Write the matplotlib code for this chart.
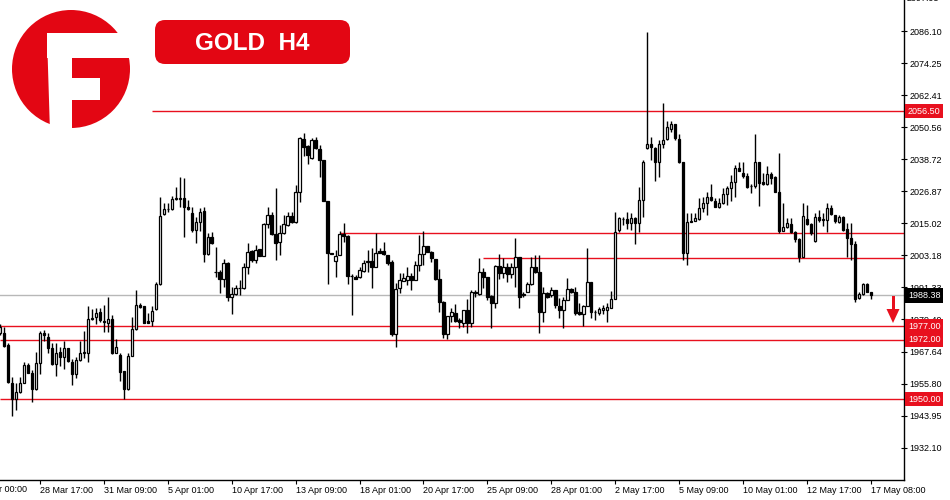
import numpy as np
import matplotlib
matplotlib.use("Agg")
import matplotlib.pyplot as plt
from matplotlib.patches import Circle, Rectangle, FancyBboxPatch, Polygon
from matplotlib.transforms import blended_transform_factory

plt.rcParams['font.family'] = ['Liberation Sans', 'DejaVu Sans']

# GOLD H4 candles (open, high, low, close), oldest first
opens = [1974.4, 1974.6, 1970.0, 1956.1, 1950.1, 1952.6, 1956.1, 1962.7, 1959.8, 1953.8,
         1963.3, 1974.6, 1972.9, 1968.8, 1962.9, 1967.6, 1965.5, 1968.8, 1963.9, 1959.2,
         1964.5, 1967.0, 1967.0, 1979.5, 1980.5, 1982.1, 1978.9, 1978.3, 1979.5, 1967.2,
         1966.4, 1960.4, 1953.8, 1966.1, 1975.8, 1984.8, 1984.4, 1978.9, 1979.0, 1983.2,
         1992.5, 2018.3, 2020.2, 2020.2, 2023.9, 2024.2, 2024.3, 2020.9, 2018.7, 2012.6,
         2015.6, 2019.6, 2003.7, 2009.8, 1997.2, 1996.9, 1994.3, 2000.5, 1987.9, 1988.9,
         1991.0, 1991.0, 1998.8, 2004.9, 2001.5, 2005.5, 2003.1, 2014.7, 2018.1, 2010.9,
         2008.0, 2011.3, 2014.4, 2017.7, 2015.4, 2026.5, 2046.1, 2043.7, 2039.3, 2045.8,
         2042.4, 2038.4, 2023.3, 2003.9, 2001.1, 2003.3, 2011.1, 2010.3, 1995.7, 1995.2,
         1995.1, 1997.5, 2000.6, 2001.1, 1999.0, 2004.9, 2004.8, 2003.3, 2000.6, 1974.0,
         1991.0, 1993.8, 1994.1, 1995.6, 1994.1, 1999.6, 2003.6, 2006.6, 2004.6, 2001.8,
         1994.4, 1986.1, 1974.0, 1980.8, 1981.8, 1979.3, 1978.3, 1983.0, 1978.1, 1989.5,
         1988.8, 1996.9, 1995.1, 1988.3, 1985.4, 1999.4, 1996.5, 1998.8, 1996.2, 1998.8,
         2002.4, 1988.8, 1989.8, 1992.5, 1998.8, 1996.9, 1982.1, 1989.1, 1988.5, 1990.4,
         1984.5, 1983.0, 1986.7, 1990.6, 1989.8, 1982.1, 1981.4, 1984.5, 1993.2, 1982.4,
         1981.8, 1983.0, 1983.0, 1983.9, 1987.0, 2012.6, 2016.7, 2016.6, 2015.0, 2017.1,
         2015.0, 2023.6, 2042.7, 2044.3, 2043.0, 2037.6, 2044.3, 2046.1, 2049.9, 2051.6,
         2046.1, 2037.6, 2003.9, 2015.6, 2016.0, 2016.6, 2020.6, 2022.4, 2024.6, 2023.4,
         2021.0, 2022.4, 2025.9, 2028.0, 2030.2, 2035.4, 2033.7, 2032.6, 2028.8, 2028.8,
         2037.6, 2030.4, 2029.4, 2033.4, 2032.3, 2026.7, 2012.3, 2013.5, 2014.8, 2011.9,
         2009.4, 2002.7, 2016.6, 2014.6, 2008.5, 2017.2, 2016.1, 2016.3, 2020.6, 2018.1,
         2015.4, 2017.5, 2012.8, 2009.7, 2007.4, 1987.3, 1988.8, 1992.6, 1989.5]
highs = [1977.8, 1976.8, 1970.7, 1958.1, 1955.9, 1958.3, 1963.9, 1963.5, 1960.8, 1967.3,
         1975.3, 1975.6, 1974.4, 1970.7, 1970.7, 1969.4, 1971.6, 1968.9, 1964.75, 1965.7,
         1971.6, 1975.2, 1984.5, 1983.2, 1983.6, 1983.6, 1984.8, 1987.7, 1981.1, 1972.1,
         1967.0, 1960.6, 1967.0, 1980.5, 1990.4, 1985.4, 1984.6, 1981.8, 1984.5, 1993.5,
         2024.9, 2022.7, 2022.4, 2025.1, 2028.6, 2032.0, 2031.65, 2023.6, 2021.2, 2017.5,
         2020.6, 2021.2, 2011.3, 2011.9, 2006.2, 1997.8, 2001.7, 2000.6, 1991.6, 1992.2,
         1994.1, 2000.2, 2007.6, 2005.2, 2007.0, 2005.6, 2015.3, 2020.9, 2019.1, 2028.0,
         2014.4, 2018.1, 2019.1, 2019.1, 2029.2, 2046.8, 2048.3, 2043.8, 2046.4, 2047.0,
         2044.0, 2038.5, 2023.4, 2004.2, 2005.2, 2012.2, 2015.3, 2010.7, 1996.3, 1995.9,
         1999.0, 2001.5, 2005.2, 2006.0, 2011.3, 2005.8, 2008.0, 2003.4, 2001.5, 1992.8,
         1996.5, 1996.5, 1998.8, 1996.5, 2001.1, 2010.7, 2012.2, 2006.7, 2004.7, 2001.9,
         1998.1, 1986.2, 1980.9, 1983.6, 1985.1, 1979.9, 1983.1, 1987.0, 1990.4, 1990.4,
         2002.1, 1998.4, 1995.2, 1988.4, 1999.6, 2003.6, 2002.1, 2000.2, 2000.2, 2009.5,
         2002.7, 1989.8, 1993.5, 2002.7, 2003.3, 2003.3, 1991.6, 1989.8, 1991.6, 1990.5,
         1987.3, 1987.9, 1994.7, 1991.0, 1991.6, 1985.4, 1984.8, 2006.0, 1993.3, 1983.0,
         1984.2, 1984.8, 1985.4, 1990.0, 2019.3, 2017.5, 2017.5, 2019.3, 2018.7, 2017.5,
         2028.6, 2038.4, 2085.9, 2047.0, 2043.3, 2045.8, 2059.4, 2052.8, 2052.8, 2051.7,
         2047.9, 2037.7, 2018.7, 2018.7, 2018.7, 2024.3, 2024.9, 2026.7, 2029.4, 2024.3,
         2024.3, 2028.0, 2028.8, 2032.9, 2036.6, 2037.8, 2037.8, 2033.5, 2029.4, 2047.9,
         2037.7, 2033.5, 2036.3, 2033.9, 2032.4, 2040.9, 2022.4, 2016.9, 2016.9, 2012.3,
         2009.5, 2022.4, 2021.8, 2015.0, 2018.7, 2019.9, 2018.7, 2022.4, 2021.8, 2018.2,
         2018.1, 2017.9, 2015.0, 2015.0, 2008.6, 1989.8, 1992.8, 1992.8, 1989.8]
lows = [1973.75, 1969.4, 1955.9, 1943.9, 1946.0, 1952.4, 1955.9, 1959.6, 1949.1, 1953.4,
        1959.3, 1971.6, 1967.2, 1962.8, 1958.7, 1962.4, 1961.1, 1963.9, 1955.3, 1957.7,
        1964.1, 1965.1, 1963.9, 1979.4, 1977.8, 1978.4, 1975.0, 1975.0, 1966.8, 1967.0,
        1956.9, 1950.0, 1953.4, 1966.0, 1975.6, 1983.6, 1978.1, 1978.1, 1977.2, 1983.1,
        1992.4, 2018.1, 2019.3, 2020.0, 2023.8, 2021.2, 2010.1, 2020.1, 2011.9, 2007.9,
        2012.3, 2000.8, 2003.3, 2007.4, 1995.3, 1989.1, 1991.6, 1986.4, 1981.5, 1988.5,
        1988.5, 1990.6, 1996.3, 2000.9, 2000.2, 2003.0, 2003.0, 2013.2, 2010.7, 2001.5,
        2003.3, 2010.9, 2014.2, 2015.3, 2015.3, 2023.0, 2040.0, 2036.8, 2038.8, 2042.5,
        2032.0, 2023.2, 1992.5, 2003.6, 1995.3, 2003.2, 2008.2, 1992.5, 1981.1, 1994.3,
        1994.7, 1997.2, 1997.2, 1991.2, 1998.9, 2003.9, 2003.3, 1999.6, 1973.5, 1969.4,
        1989.1, 1993.7, 1992.2, 1990.4, 1994.0, 1997.5, 1999.6, 2004.3, 2000.6, 1994.1,
        1982.1, 1972.5, 1972.3, 1978.7, 1978.7, 1976.5, 1976.8, 1974.4, 1976.8, 1987.7,
        1988.7, 1991.0, 1986.7, 1976.2, 1983.6, 1994.4, 1994.9, 1993.2, 1994.7, 1991.6,
        1983.6, 1987.9, 1989.5, 1992.2, 1996.5, 1974.4, 1978.7, 1987.3, 1987.9, 1983.6,
        1979.9, 1976.2, 1986.6, 1989.1, 1981.1, 1981.1, 1977.2, 1984.4, 1979.9, 1979.3,
        1981.1, 1981.4, 1978.7, 1983.6, 1986.9, 2011.7, 2014.4, 2012.9, 2012.6, 2007.3,
        2011.9, 2017.5, 2042.5, 2038.4, 2030.7, 2032.3, 2042.7, 2045.8, 2048.9, 2045.8,
        2037.2, 2001.5, 1999.6, 2015.4, 2015.9, 2016.3, 2019.3, 2018.1, 2023.3, 2021.1,
        2020.6, 2022.3, 2021.8, 2023.3, 2024.9, 2034.3, 2031.6, 2028.0, 2026.1, 2028.2,
        2021.5, 2029.3, 2029.3, 2029.4, 2026.6, 2011.6, 2012.2, 2013.4, 2011.3, 2008.2,
        2000.9, 2002.6, 2014.4, 2010.7, 2008.2, 2015.6, 2014.2, 2011.9, 2018.1, 2015.0,
        2015.0, 2012.2, 2002.7, 2001.5, 1985.8, 1987.05, 1988.5, 1989.5, 1987.05]
closes = [1976.8, 1969.7, 1956.25, 1950.1, 1952.6, 1956.1, 1962.7, 1959.8, 1953.8, 1963.3,
          1974.4, 1973.75, 1968.8, 1962.9, 1967.2, 1965.7, 1968.8, 1964.3, 1959.2, 1964.5,
          1967.2, 1967.6, 1979.5, 1979.9, 1982.0, 1979.3, 1978.7, 1979.5, 1967.0, 1969.2,
          1960.2, 1953.8, 1966.0, 1975.8, 1984.8, 1984.0, 1978.3, 1978.3, 1982.7, 1992.5,
          2017.85, 2020.2, 2020.3, 2023.9, 2024.3, 2024.3, 2021.2, 2020.2, 2012.6, 2015.6,
          2019.3, 2003.7, 2009.8, 2007.6, 1996.9, 1994.3, 2000.2, 1987.9, 1988.9, 1991.0,
          1991.1, 1998.8, 2004.3, 2001.5, 2005.2, 2003.1, 2014.8, 2018.1, 2010.9, 2007.6,
          2011.3, 2014.8, 2017.7, 2015.4, 2026.5, 2046.4, 2043.4, 2040.3, 2045.8, 2042.7,
          2038.4, 2023.3, 2003.9, 2003.8, 2002.9, 2011.1, 2010.3, 1995.7, 1995.6, 1994.4,
          1997.8, 2000.2, 2001.1, 1999.0, 2003.9, 2004.2, 2003.6, 2000.2, 1974.0, 1990.75,
          1994.1, 1994.7, 1995.6, 1994.1, 1999.6, 2003.6, 2006.6, 2004.6, 2002.1, 1994.4,
          1986.1, 1974.0, 1980.8, 1982.1, 1979.0, 1978.4, 1983.0, 1978.1, 1989.5, 1989.4,
          1996.9, 1995.3, 1987.9, 1985.4, 1999.4, 1996.5, 1998.8, 1996.2, 1998.8, 2002.4,
          1987.9, 1988.4, 1992.5, 1998.8, 1996.9, 1982.4, 1989.1, 1987.9, 1990.4, 1984.8,
          1983.0, 1986.7, 1990.6, 1989.8, 1981.8, 1981.6, 1984.5, 1993.2, 1982.1, 1982.3,
          1983.4, 1983.6, 1984.2, 1987.0, 2011.9, 2016.9, 2016.6, 2015.0, 2017.1, 2015.3,
          2023.6, 2037.8, 2044.3, 2043.1, 2037.6, 2044.3, 2045.8, 2050.5, 2051.6, 2046.7,
          2037.8, 2003.9, 2015.4, 2016.0, 2016.9, 2020.6, 2022.4, 2024.6, 2023.6, 2021.2,
          2022.4, 2025.9, 2028.0, 2030.2, 2035.4, 2034.4, 2032.6, 2028.6, 2028.9, 2037.6,
          2030.1, 2029.4, 2033.1, 2031.9, 2026.7, 2012.2, 2013.5, 2015.0, 2011.9, 2009.2,
          2002.7, 2017.9, 2014.6, 2011.3, 2017.2, 2016.3, 2016.6, 2020.6, 2018.3, 2016.0,
          2017.2, 2012.6, 2009.7, 2007.4, 1987.05, 1988.8, 1992.5, 1989.8, 1988.38]

# time axis labels: every 16 bars, first one falls just left of the visible window
date_labels = ["28 Mar 17:00", "31 Mar 09:00", "5 Apr 01:00", "10 Apr 17:00",
               "13 Apr 09:00", "18 Apr 01:00", "20 Apr 17:00", "25 Apr 09:00",
               "28 Apr 01:00", "2 May 17:00", "5 May 09:00", "10 May 01:00",
               "12 May 17:00", "17 May 08:00"]
first_label = "24 Mar 00:00"
price_ticks = [2086.10, 2074.25, 2062.41, 2050.56, 2038.72, 2026.87, 2015.02,
               2003.18, 1991.33, 1979.49, 1967.64, 1955.80, 1943.95, 1932.10]
top_tick = 2097.95

# horizontal levels: price, first bar where the line starts
levels = [2056.50, 2011.30, 2002.10, 1977.00, 1972.00, 1950.00]
level_start = [38, 85, 121, 0, 0, 0]
tagged_levels = [2056.50, 1977.00, 1972.00, 1950.00]
last_price = 1988.38

RED = '#e8101e'
LOGO_RED = '#e30613'

fig = plt.figure(figsize=(9.5, 5), dpi=100)
ax = fig.add_axes([0, 0.04, 904 / 950, 0.96])

o = np.array(opens)
h = np.array(highs)
l = np.array(lows)
c = np.array(closes)
x = np.arange(len(o))

ax.vlines(x, l, h, color='black', lw=1.0, zorder=2)
bottom = np.minimum(o, c)
height = np.maximum(np.abs(c - o), 0.05)
face = ['white' if cc >= oo else 'black' for oo, cc in zip(o, c)]
ax.bar(x, height, width=0.62, bottom=bottom, color=face, edgecolor='black',
       linewidth=0.9, zorder=3)

xmax = 904 / 3.995
ax.set_xlim(0, xmax)
ax.set_ylim(1920.17, 2097.56)

for lv, st in zip(levels, level_start):
    ax.hlines(lv, st, xmax, color=RED, lw=1.0, zorder=1)
ax.axhline(last_price, color='#b8b8b8', lw=1.0, zorder=1)

# axes look
for side in ['left', 'top']:
    ax.spines[side].set_visible(False)
for side in ['right', 'bottom']:
    ax.spines[side].set_color('black')
    ax.spines[side].set_linewidth(1.0)

ax.yaxis.tick_right()
ax.set_yticks(price_ticks)
ax.set_yticklabels(['%.2f' % v for v in price_ticks])
ax.tick_params(axis='y', direction='inout', length=4, width=0.8, labelsize=6.5, pad=2)

tick_pos = [10 + 16 * k for k in range(len(date_labels))]
ax.set_xticks(tick_pos)
ax.set_xticklabels(date_labels)
ax.tick_params(axis='x', direction='out', length=3, width=0.8, labelsize=6.5, pad=1.5)
for t in ax.get_xticklabels():
    t.set_ha('left')

bt = blended_transform_factory(ax.transData, ax.transAxes)
ax.text(tick_pos[0] - 16 - 0.6, -0.011, first_label, transform=bt, fontsize=6.5,
        ha='left', va='top', clip_on=False)

rt = blended_transform_factory(ax.transAxes, ax.transData)
ax.text(1 + 3 / 904, top_tick, '%.2f' % top_tick, transform=rt, fontsize=6.5,
        ha='left', va='center', clip_on=False)
for lv in tagged_levels:
    ax.text(1 + 4 / 904, lv, '%.2f' % lv, transform=rt, fontsize=6.5, color='white',
            ha='left', va='center', zorder=5,
            bbox=dict(boxstyle='square,pad=0.3', fc=RED, ec='none'))
ax.text(1 + 4 / 904, last_price, '%.2f' % last_price, transform=rt, fontsize=6.5,
        color='white', ha='left', va='center', zorder=5,
        bbox=dict(boxstyle='square,pad=0.3', fc='black', ec='none'))

# overlay in pixel units for logo, title box and arrow
ov = fig.add_axes([0, 0, 1, 1], facecolor='none')
ov.set_xlim(0, 950)
ov.set_ylim(500, 0)
ov.axis('off')

ov.add_patch(Circle((71, 69), 59, color=LOGO_RED, lw=0))
ov.add_patch(Polygon([(47, 36), (50, 132), (72, 132), (72, 36)], closed=True,
                     color='white', lw=0))
ov.add_patch(Rectangle((47, 33), 91, 25, color='white', lw=0))
ov.add_patch(Rectangle((72, 78), 28, 22, color='white', lw=0))

ov.add_patch(FancyBboxPatch((155, 20), 195, 44, boxstyle='round,pad=0,rounding_size=10',
                            color=LOGO_RED, lw=0))
ov.text(252.5, 43, 'GOLD  H4', color='white', fontsize=17.5, fontweight='bold',
        ha='center', va='center')

ov.add_patch(Rectangle((891.5, 296), 3, 14, color=RED, lw=0))
ov.add_patch(Polygon([(886.5, 309), (899.5, 309), (893, 323)], closed=True, color=RED, lw=0))

fig.savefig('out.png', dpi=100)
